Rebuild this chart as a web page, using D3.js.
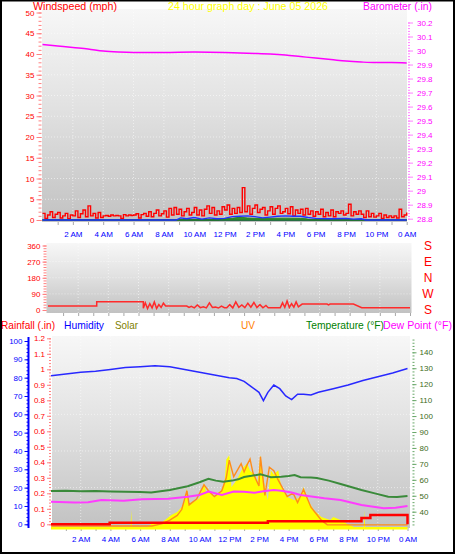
<!DOCTYPE html>
<html><head><meta charset="utf-8">
<script src="https://cdn.jsdelivr.net/npm/d3@7"></script>
<style>body{margin:0;background:#fff}svg{display:block}</style>
</head><body><svg id="c" width="455" height="554"></svg>
<script>
const FONT = '"Liberation Sans", Arial, sans-serif';
const hourTicks = [2,4,6,8,10,12,14,16,18,20,22,24];
const hourLabels = ["2 AM","4 AM","6 AM","8 AM","10 AM","12 PM","2 PM","4 PM","6 PM","8 PM","10 PM","0 AM"];

// Windspeed (mph), one sample every 10 minutes from 0:00 to 24:00
const windStepHours = 1/6;
const windSpeed = [
  1.6,0.4,1.2,2.0,0.6,1.4, 1.8,0.5,1.0,1.6,0.3,1.2, 1.0,2.2,0.6,1.5,2.4,0.8, 3.4,1.0,1.6,0.5,1.8,0.6,
  1.0,1.1,0.9,1.2,1.0,1.1, 1.0,0.4,1.3,1.0,1.2,1.1, 1.2,1.5,0.5,1.3,1.6,0.9, 2.0,0.8,1.6,2.4,1.0,1.5,
  2.2,0.7,2.8,1.2,3.0,1.4, 2.6,1.0,2.0,2.8,1.2,1.8, 3.0,1.2,2.4,1.0,2.6,3.4, 1.6,3.0,1.2,2.2,1.4,3.2,
  2.4,3.6,1.4,2.8,1.6,3.0, 1.8,7.8,2.0,3.4,1.4,2.8, 3.6,1.8,2.6,3.0,1.2,2.2, 3.2,1.4,2.8,3.4,1.6,2.0,
  2.8,1.5,3.2,1.0,2.4,1.6, 2.6,1.2,2.8,1.4,2.2,0.9, 2.0,1.4,2.6,0.8,1.8,1.0, 2.4,0.8,2.0,1.6,2.2,1.2,
  1.6,3.8,1.0,2.0,1.4,2.2, 1.4,0.6,2.2,0.8,1.6,0.7, 1.0,1.6,0.4,1.2,0.6,1.0, 0.6,1.0,0.5,2.6,0.8,1.2, 1.8];
const windAvgHours = [0,8.8,9.1,9.5,10,10.5,11,11.5,12,12.5,13,13.5,14,14.5,15,15.5,16,16.5,17,17.5,18,19,20,20.5,21,21.3,24];
const windAvg = [0,0,0.5,0.3,0.6,0.2,0.5,0.3,0.4,0.8,0.9,1.0,0.8,0.5,0.7,0.9,1.0,0.9,0.9,0.6,0.4,0.3,0.4,0.2,0.3,0,0];
const windLowHours = [0,11.6,11.8,12.5,13,13.5,14,15,16,17,17.4,17.6,24];
const windLow = [0,0,0.3,0.4,0.7,0.5,0.4,0.4,0.45,0.4,0.3,0,0];

const baroHours = [0,1,2,3,4,5,6,8,10,12,13,14,15,16,17,18,19,20,21,22,23,24];
const barometer = [30.043,30.032,30.021,30.011,29.996,29.989,29.986,29.986,29.989,29.986,29.982,29.979,29.975,29.968,29.957,29.946,29.936,29.925,29.918,29.914,29.914,29.911];

const dirHours = [0,3.23,3.23,6.32,6.32,6.45,6.6,6.75,6.9,7.05,7.2,7.35,7.5,7.65,7.8,9.2,9.35,9.5,9.7,9.9,10.1,10.3,10.5,10.7,10.9,11.1,11.3,11.5,11.7,11.85,12.05,12.25,12.45,12.65,12.85,13.05,13.25,13.45,13.65,13.85,14.05,14.25,14.45,14.6,15.4,15.55,15.7,15.85,16.0,16.15,16.3,16.45,16.6,16.85,18.5,18.6,18.7,20.25,20.8,24];
const dirValues = [22,22,46,46,10,40,8,35,12,45,9,30,14,38,22,22,14,20,12,28,13,18,12,40,14,16,11,22,13,13,30,12,45,15,28,13,38,16,42,14,30,12,25,13,13,40,15,50,14,35,16,45,18,33,33,28,33,33,13,13];
const dirTicks = [360,270,180,90,0];
const dirLetters = ["S","E","N","W","S"];

const humHours = [0,1,2,3,4,5,6,7,8,9,10,11,12,12.5,13,13.5,14,14.3,14.6,15,15.4,15.8,16.2,16.6,17,17.5,18,19,20,21,22,23,24];
const humidity = [81,82,83,83.5,84.5,85.5,86,86.5,86,84.5,83,81.5,80,79.5,78,75,72,67.5,72,76,74,70,68,71,71,70.5,72,74,76,78.5,80.5,82.5,85];
const tempHours = [0,1,2,3,4,5,6,6.75,8,9.2,10,10.6,11.1,11.6,12.2,12.6,13,13.5,14.1,14.5,14.8,15.5,16,16.4,16.8,17.5,17.9,18.7,19.5,20.2,20.9,21.8,22.7,23.3,24];
const temperature = [53,53.2,52.8,53,52.7,52.5,52.3,52,53.6,56,58.5,60.7,59.5,58.8,59.5,60.3,61.8,62.5,63.5,62.5,61.6,62,62.4,63,61.6,61.5,61.2,59.5,57.4,55.5,53.6,51.5,49.4,49.2,49.8];
const dewHours = [0,1.6,2.5,3.4,4.9,6.1,7.9,9.2,10,10.6,11.5,12.3,13,13.7,14.3,15,15.5,16.2,16.8,18.4,19.5,20.9,22.4,23.2,24];
const dewPoint = [46.3,45.7,46,47.3,46.9,47.8,48.2,49.4,50.5,52.6,50.5,52.6,52.5,51.9,52.8,53.6,53.2,52,50.5,48.4,47.3,44.2,42.1,42.5,43.6];
const rainHours = [0,3.95,14.6,20.9,21.5,23.95,24];
const rainfall = [0,0.01,0.02,0.04,0.06,0.06,0];
const solarHours = [0,5.36,5.4,5.44,6.5,6.75,7.2,7.5,7.85,8.1,8.5,8.8,9.0,9.15,9.25,9.6,10.0,10.3,10.45,10.6,11.0,11.45,11.7,11.8,12.0,12.15,12.4,12.6,12.9,13.2,13.4,13.6,13.9,14.1,14.25,14.4,14.6,14.8,15.0,15.3,15.5,15.9,16.4,16.8,17.0,17.3,17.7,18.2,18.8,19.0,19.5,20.0,20.4,21.06,21.1,21.14,24];
const solar = [0,0,136,0,0,24,30,40,72,96,120,160,200,310,190,200,230,350,270,290,240,280,380,540,575,320,360,400,470,510,450,430,350,575,420,320,215,455,420,455,320,240,215,240,320,215,135,80,56,80,56,20,0,0,136,0,0];
const uvHours = [0,6.8,7.5,8.0,8.5,8.8,9.15,9.3,9.8,10.3,10.6,11.0,11.5,11.8,12.0,12.3,12.8,13.0,13.2,13.4,13.6,14.0,14.1,14.4,14.7,15.0,15.3,15.9,16.3,16.6,17.0,17.5,18.2,18.6,24];
const uv = [0,0,0.2,0.5,0.9,1.4,3.0,1.8,2.3,3.5,3.0,2.5,3.0,4.1,5.6,4.2,5.3,4.6,5.2,5.7,4.5,3.4,5.9,2.6,5.0,4.7,3.9,2.5,2.8,2.0,3.1,1.6,0.5,0.1,0.1];

const svg = d3.select("#c");
const defs = svg.append("defs");
const grad = defs.append("linearGradient").attr("id","bg").attr("x1",0).attr("y1",0).attr("x2",0).attr("y2",1);
grad.append("stop").attr("offset","0").attr("stop-color","#f7f7f7");
grad.append("stop").attr("offset","0.45").attr("stop-color","#e2e2e2");
grad.append("stop").attr("offset","1").attr("stop-color","#c2c2c2");

svg.append("rect").attr("x",0).attr("y",0).attr("width",455).attr("height",554).attr("fill","#fff");

// scales
const xTop = d3.scaleLinear([0,24],[42.5,406.7]);
const yWind = d3.scaleLinear([0,50],[220,12.5]);
const yBaro = d3.scaleLinear([28.8,30.2],[218.7,22.5]);
const xDir = d3.scaleLinear([0,24],[48,410]);
const yDir = d3.scaleLinear([0,360],[310,245.5]);
const xBot = d3.scaleLinear([0,24],[51,407.5]);
const yHum = d3.scaleLinear([0,100],[524.3,341]);
const yRain = d3.scaleLinear([0,1],[524.3,369.3]);
const yTemp = d3.scaleLinear([40,140],[511.7,352.3]);
const ySolar = d3.scaleLinear([0,1500],[527,339.5]);
const yUV = d3.scaleLinear([0,16],[526,338]);

function panel(x0,x1,y0,y1){
  svg.append("rect").attr("x",x0).attr("y",y0).attr("width",x1-x0).attr("height",y1-y0).attr("fill","url(#bg)");
}
panel(42,407,9,222);
panel(46.5,411.5,243,313);
panel(52,410,336,528);

function grid(x0,x1,y0,y1,xs,ys){
  const g = svg.append("g").attr("stroke","#ffffff").attr("stroke-opacity",0.55).attr("stroke-dasharray","1,2");
  xs.forEach(x=>g.append("line").attr("x1",x).attr("x2",x).attr("y1",y0).attr("y2",y1));
  ys.forEach(y=>g.append("line").attr("x1",x0).attr("x2",x1).attr("y1",y).attr("y2",y));
}
grid(42,407,9,222,hourTicks.slice(0,11).map(xTop),[5,10,15,20,25,30,35,40,45].map(yWind));
grid(46.5,411.5,243,313,hourTicks.slice(0,11).map(xDir),[90,180,270].map(yDir));
grid(52,410,336,528,hourTicks.slice(0,11).map(xBot),[20,40,60,80].map(yHum));

function vAxis(x, scale, majors, minors, o){
  const af = o.right ? d3.axisRight : d3.axisLeft;
  const g = svg.append("g").attr("transform",`translate(${x},0)`);
  const gm = g.append("g").call(af(scale).tickValues(minors).tickSize(o.minorLen).tickFormat(""));
  gm.select(".domain").remove();
  const gM = g.append("g").call(af(scale).tickValues(majors).tickSize(o.majorLen).tickPadding(o.pad).tickFormat(o.fmt));
  gM.select(".domain").remove();
  g.selectAll("line").attr("stroke",o.tick).attr("stroke-width",o.tw||1);
  g.selectAll("text").attr("fill",o.label).attr("font-size",o.fs||8).attr("font-family",FONT);
  if(o.line){
    g.append("line").attr("x1",0).attr("x2",0).attr("y1",o.line[0]).attr("y2",o.line[1])
      .attr("stroke",o.tick).attr("stroke-width",o.lw||1);
  }
  return g;
}
function hAxis(scale, y, labels, pad){
  const g = svg.append("g").attr("transform",`translate(0,${y})`);
  g.call(d3.axisBottom(scale).tickValues(d3.range(1,25)).tickSize(3).tickFormat("")).select(".domain").remove();
  g.selectAll("line").attr("stroke","#a8a8a8");
  if(labels){
    const gl = svg.append("g").attr("transform",`translate(0,${y})`)
      .call(d3.axisBottom(scale).tickValues(hourTicks).tickSize(0).tickPadding(pad).tickFormat((d,i)=>hourLabels[i]));
    gl.select(".domain").remove();
    gl.selectAll("text").attr("fill","#0000ff").attr("font-size",8).attr("font-family",FONT);
  }
}

// ---------- Top panel ----------
vAxis(41.5, yWind, d3.range(0,51,5), d3.range(0,51,1), {minorLen:3,majorLen:5,pad:2,tick:"#ff8080",label:"#ff0000",fmt:d3.format("d")});
vAxis(408, yBaro, d3.range(28.8,30.21,0.1).map(v=>+v.toFixed(1)), d3.range(28.8,30.21,0.02).map(v=>+v.toFixed(2)),
  {right:true,minorLen:2,majorLen:5,pad:4,tick:"#ff80ff",label:"#ff00ff",fmt:d=>String(+d.toFixed(1))});
hAxis(xTop, 222, true, 9);

svg.append("path").attr("fill","none").attr("stroke","#ff00ff").attr("stroke-width",1.5)
  .attr("d", d3.line().x((d,i)=>xTop(baroHours[i])).y(d=>yBaro(d)).curve(d3.curveMonotoneX)(barometer));
svg.append("path").attr("fill","none").attr("stroke","#ff0000").attr("stroke-width",1.4)
  .attr("d", d3.line().x((d,i)=>xTop(i*windStepHours)).y(d=>yWind(d)).curve(d3.curveStepAfter)(windSpeed));
svg.append("line").attr("x1",xTop(0)).attr("x2",xTop(24)).attr("y1",yWind(0)).attr("y2",yWind(0))
  .attr("stroke","#2f6a5c").attr("stroke-width",2);
svg.append("path").attr("fill","#2e8b2e").attr("stroke","#1f7a1f").attr("stroke-width",0.8)
  .attr("d", d3.area().x((d,i)=>xTop(windLowHours[i])).y0(yWind(0)).y1(d=>yWind(d))(windLow));
svg.append("path").attr("fill","none").attr("stroke","#2030ff").attr("stroke-width",1.3)
  .attr("d", d3.line().x((d,i)=>xTop(windAvgHours[i])).y(d=>yWind(d))(windAvg));

// ---------- Direction panel ----------
vAxis(46.5, yDir, [0,90,180,270,360], d3.range(0,361,15), {minorLen:3,majorLen:4,pad:2,tick:"#ff8080",label:"#ff0000",fmt:d3.format("d")});
hAxis(xDir, 313, false, 0);
svg.append("path").attr("fill","none").attr("stroke","#ff2a2a").attr("stroke-width",1.5)
  .attr("d", d3.line().x((d,i)=>xDir(dirHours[i])).y(d=>yDir(d))(dirValues));
svg.append("g").selectAll("text").data(dirTicks).join("text")
  .attr("x",428).attr("y",d=>yDir(d)).attr("dy","0.36em").attr("text-anchor","middle")
  .attr("font-size",12).attr("font-family",FONT).attr("fill","#ff0000").text((d,i)=>dirLetters[i]);

// ---------- Bottom panel ----------
vAxis(28.5, yHum, d3.range(0,101,10), d3.range(0,101,2), {minorLen:2,majorLen:4,pad:2,tick:"#0000ff",label:"#0000ff",fmt:d3.format("d"),line:[337,528],lw:2});
vAxis(51, yRain, d3.range(0,1.21,0.1).map(v=>+v.toFixed(1)), d3.range(0,1.21,0.02).map(v=>+v.toFixed(2)),
  {minorLen:2,majorLen:4,pad:2,tick:"#ff8080",label:"#ff0000",fmt:d=>String(+d.toFixed(1))});
vAxis(412.5, yTemp, d3.range(40,141,10), d3.range(32,149,2), {right:true,minorLen:2,majorLen:4,pad:3,tick:"#6aa86a",label:"#3d6b1a",fmt:d3.format("d")});
hAxis(xBot, 528, true, 8);

svg.append("path").attr("fill","#ffff00").attr("stroke","none")
  .attr("d", d3.area().x((d,i)=>xBot(solarHours[i])).y0(529.5).y1(d=>ySolar(d))(solar));
svg.append("path").attr("fill","none").attr("stroke","#ff8c1a").attr("stroke-width",1.4)
  .attr("d", d3.line().x((d,i)=>xBot(uvHours[i])).y(d=>yUV(d))(uv));
svg.append("path").attr("fill","none").attr("stroke","#3a8a3a").attr("stroke-width",2)
  .attr("d", d3.line().x((d,i)=>xBot(tempHours[i])).y(d=>yTemp(d))(temperature));
svg.append("path").attr("fill","none").attr("stroke","#ff3cff").attr("stroke-width",2)
  .attr("d", d3.line().x((d,i)=>xBot(dewHours[i])).y(d=>yTemp(d))(dewPoint));
svg.append("path").attr("fill","none").attr("stroke","#2828ff").attr("stroke-width",1.5)
  .attr("d", d3.line().x((d,i)=>xBot(humHours[i])).y(d=>yHum(d))(humidity));
svg.append("path").attr("fill","none").attr("stroke","#ff0000").attr("stroke-width",2.5)
  .attr("d", d3.line().x((d,i)=>xBot(rainHours[i])).y(d=>yRain(d)).curve(d3.curveStepAfter)(rainfall));

// ---------- Titles ----------
function title(txt,x,y,color,w,fs){
  svg.append("text").attr("x",x).attr("y",y).attr("fill",color).attr("font-size",fs||11).attr("font-family",FONT)
    .attr("textLength",w).attr("lengthAdjust","spacingAndGlyphs").text(txt);
}
title("Windspeed (mph)",33,9.5,"#ff0000",84);
title("24 hour graph day : June 05 2026",168,9.5,"#ffff00",160);
title("Barometer (.in)",363,9.5,"#ff00ff",69);
title("Rainfall (.in)",1,329,"#ff0000",54);
title("Humidity",64,329,"#0000ff",40);
title("Solar",115,329,"#808000",23);
title("UV",241,329,"#ff8000",14);
title("Temperature (°F)",306,329,"#008000",78);
title("Dew Point (°F)",383,329,"#ff00ff",69);

svg.append("rect").attr("x",1).attr("y",0.5).attr("width",453).attr("height",552.5).attr("fill","none").attr("stroke","#000").attr("stroke-width",2);
</script></body></html>
